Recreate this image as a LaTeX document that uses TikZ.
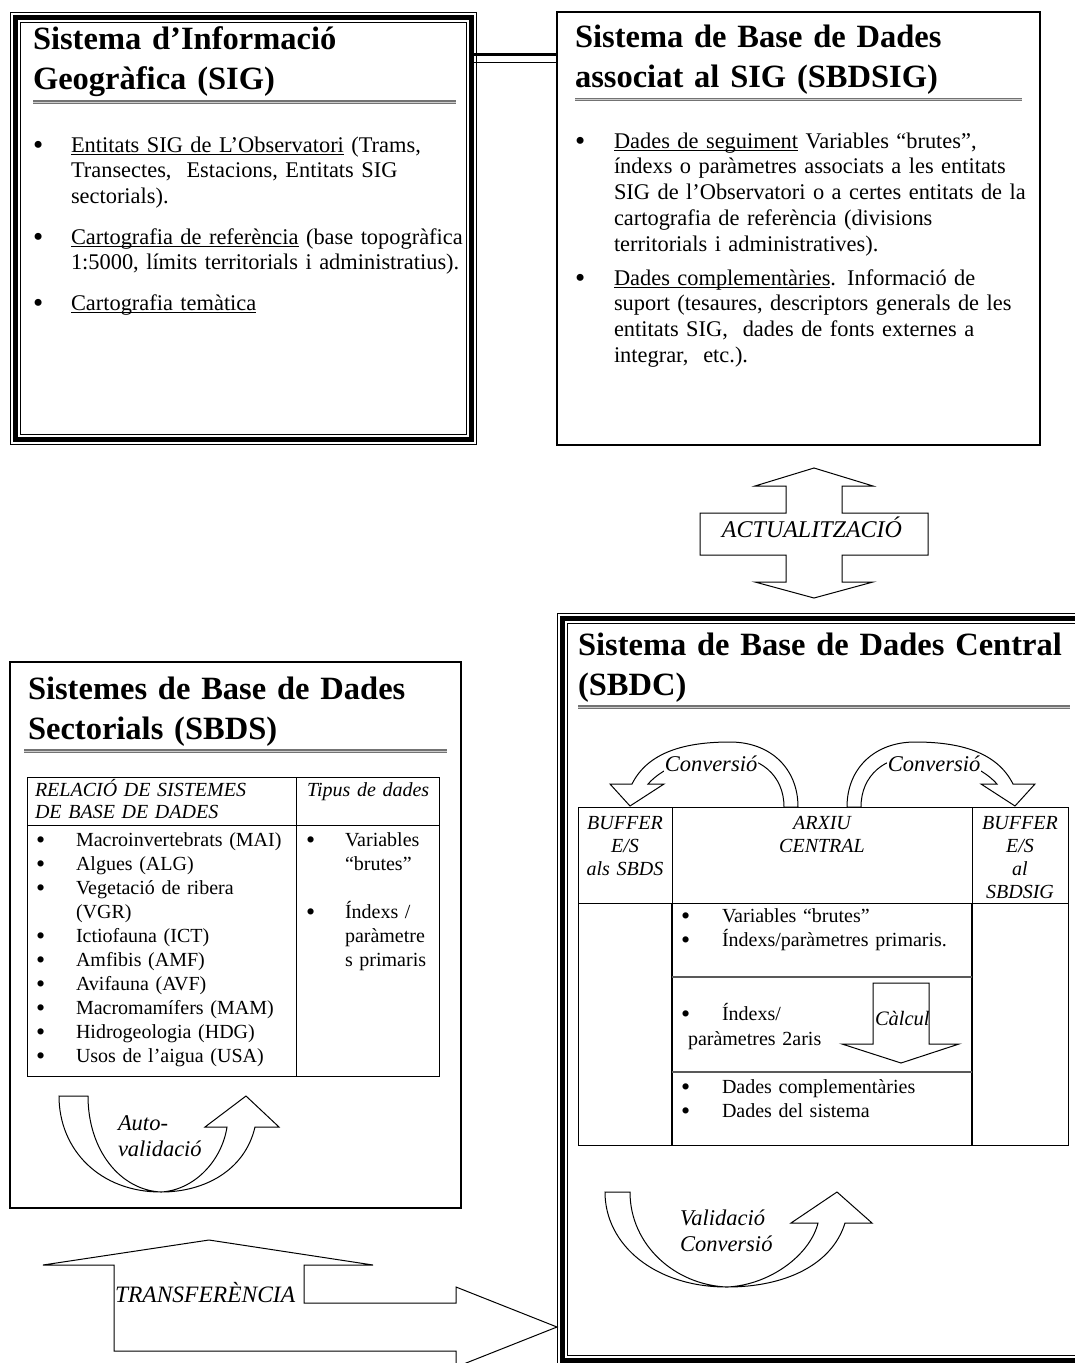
\documentclass[tikz,border=0pt]{standalone}
\usepackage{fontspec}
\setmainfont{Liberation Serif}
\usetikzlibrary{calc}

\newcommand\undl[1]{\sbox0{#1}\rlap{\rule[-3pt]{\wd0}{1.2pt}}\usebox0}
\newcommand\bul{\raisebox{-2.2pt}{\scalebox{1.3}{\textbullet}}}

\begin{document}
\begin{tikzpicture}[x=1pt,y=-1pt,every node/.append style={inner sep=0pt,outer sep=0pt},
  box/.style={draw, line width=1.2pt},
  triplebox/.style={draw, line width=5.5pt, preaction={draw, double, line width=1.2pt, double distance=9pt}},
  hrule/.style={draw=black!55, line width=1.1pt, double=black!20, double distance=1pt},
  blk/.style={draw, line width=1pt, fill=white, line join=miter},
  ttl/.style={font=\fontsize{32.5}{40.5}\selectfont\bfseries, text width=520pt, align=left, anchor=base west},
  txt/.style={font=\fontsize{22.4}{25.8}\selectfont, text width=440pt, align=left, anchor=base west},
  dot/.style={font=\fontsize{22.4}{25.8}\selectfont, anchor=base west},
  cell/.style={font=\fontsize{20}{24}\selectfont, text width=280pt, align=left, anchor=base west},
  cdot/.style={font=\fontsize{20}{24}\selectfont, anchor=base west},
  hcell/.style={font=\fontsize{20}{23}\selectfont\itshape, text width=90pt, align=center, anchor=base},
  lbl/.style={font=\fontsize{22.5}{26}\selectfont\itshape, anchor=base west}]
    \useasboundingbox[fill=white] (0,0) rectangle (1075,1363);

    \node[triplebox, minimum width=455.6pt, minimum height=421.6pt] (sig) at (243.5,228.5) {};
    \node[box, minimum width=483pt, minimum height=433pt] (sbdsig) at (798.5,228.5) {};
    \node[box, minimum width=451pt, minimum height=546pt] (sbds) at (235.5,935) {};
    \node[triplebox, minimum width=529.3pt, minimum height=741.6pt] (sbdc) at (827.35,989.5) {};

    \draw[line width=3.3pt] ([yshift=-37pt]sig.north east) -- ([yshift=-37pt]sig.north east -| sbdsig.west);
    \draw[line width=1pt] ([yshift=-44.5pt]sig.north east) -- ([yshift=-44.5pt]sig.north east -| sbdsig.west);

    \node[ttl] (sigT) at (33,49) {Sistema d’Informació\\Geogràfica (SIG)};
    \draw[hrule] (33,102) -- (456,102);
    \foreach \y [count=\i] in {152,244,310} \node[dot] (gdot\i) at (33,\y) {\bul};
    \node[txt] (sigL1) at (71,152) {\undl{Entitats SIG de L’Observatori} (Trams,\\Transectes,\ \ Estacions, Entitats SIG\\sectorials).};
    \node[txt] (sigL2) at (71,244) {\undl{Cartografia de referència} (base topogràfica\\1:5000, límits territorials i administratius).};
    \node[txt] (sigL3) at (71,310) {\undl{Cartografia temàtica}};

    \node[ttl] (sbdsigT) at (575,47) {Sistema de Base de Dades\\associat al SIG (SBDSIG)};
    \draw[hrule] (575,99.5) -- (1022,99.5);
    \foreach \y [count=\i] in {148,285} \node[dot] (bdot\i) at (575,\y) {\bul};
    \node[txt] (sbdsigL1) at (614,148) {\undl{Dades de seguiment} Variables “brutes”,\\índexs o paràmetres associats a les entitats\\SIG de l’Observatori o a certes entitats de la\\cartografia de referència (divisions\\territorials i administratives).};
    \node[txt] (sbdsigL2) at (614,285) {\undl{Dades complementàries}. Informació de\\suport (tesaures, descriptors generals de les\\entitats SIG,\ \ dades de fonts externes a\\integrar,\ \ etc.).};

    \draw[blk] (814,468) -- (873,486) -- (842,486) -- (842,513) -- (928,513) -- (928,555) -- (842,555) -- (842,582) -- (873,582) -- (814,598) -- (755,582) -- (786,582) -- (786,555) -- (700,555) -- (700,513) -- (786,513) -- (786,486) -- (755,486) -- cycle;
    \node[lbl, anchor=base, font=\fontsize{24}{26}\selectfont\itshape] (upd) at (812,537) {ACTUALITZACIÓ};

    \node[ttl] (sbdcT) at (578,655) {Sistema de Base de Dades Central\\(SBDC)};
    \draw[hrule] (578,707) -- (1070,707);

    \draw[blk] (784,807) -- (798,807) .. controls (798,768) and (770,742) .. (730,742) .. controls (685,742) and (648,752) .. (632,784) -- (610,784) -- (630,806) -- (664,784) -- (648,784) .. controls (665,765) and (695,756) .. (728,756) .. controls (760,756) and (784,775) .. (784,807) -- cycle;
    \draw[blk] (861,807) -- (847,807) .. controls (847,768) and (875,742) .. (915,742) .. controls (960,742) and (997,752) .. (1013,784) -- (1035,784) -- (1015,806) -- (981,784) -- (997,784) .. controls (980,765) and (950,756) .. (917,756) .. controls (885,756) and (861,775) .. (861,807) -- cycle;
    \node[lbl, anchor=base, fill=white, inner sep=0.5pt] (convL) at (711,771) {Conversió};
    \node[lbl, anchor=base, fill=white, inner sep=0.5pt] (convR) at (934,771) {Conversió};

    \draw[line width=1pt] (578,807) rectangle (1068,1145);
    \draw[line width=1pt] (578,903) -- (1068,903);
    \foreach \x in {672,972} {
        \draw[line width=1pt] (\x,807) -- (\x,903);
        \draw[line width=2.6pt] (\x,903) -- (\x,1145);
    }
    \draw[line width=1.3pt, black!65] (672,977) -- (972,977) (672,1072) -- (972,1072);
    \node[hcell] (bufL) at (625,829) {BUFFER\\E/S\\als SBDS};
    \node[hcell, text width=200pt] (arxiu) at (822,829) {ARXIU\\CENTRAL};
    \node[hcell] (bufR) at (1020,829) {BUFFER\\E/S\\al\\SBDSIG};
    \foreach \y [count=\i] in {922,946,1020,1093,1117} \node[cdot] (cdot\i) at (681,\y) {\bul};
    \node[cell] (row1) at (722,922) {Variables “brutes”\\Índexs/paràmetres primaris.};
    \node[cell] (row2a) at (722,1020) {Índexs/};
    \node[cell] (row2b) at (688,1045) {paràmetres 2aris};
    \node[cell] (row3) at (722,1093) {Dades complementàries\\Dades del sistema};
    \draw[blk] (873,983) -- (929,983) -- (929,1044) -- (959,1044) -- (901,1063) -- (842,1044) -- (873,1044) -- cycle;
    \node[lbl, font=\fontsize{20.5}{24}\selectfont\itshape] (calc) at (875,1025) {Càlcul};

    \draw[blk] (605,1192) -- (630,1192) .. controls (630,1245) and (675,1285) .. (727,1287) .. controls (770,1285) and (810,1255) .. (818,1223) -- (791,1223) -- (837,1192) -- (872,1223) -- (845,1223) .. controls (832,1265) and (785,1287) .. (727,1287) .. controls (655,1287) and (605,1245) .. (605,1192) -- cycle;
    \node[lbl, text width=120pt, align=left] (valid) at (680,1225) {Validació\\Conversió};

    \node[ttl] (sbdsT) at (28,699) {Sistemes de Base de Dades\\Sectorials (SBDS)};
    \draw[hrule] (24,751) -- (447,751);
    \draw[line width=1pt] (27,777) rectangle (439,1076);
    \draw[line width=1pt] (27,825) -- (439,825) (296,777) -- (296,1076);
    \node[cell, font=\fontsize{20}{22}\selectfont\itshape] (relacio) at (35,796) {RELACIÓ DE SISTEMES\\DE BASE DE DADES};
    \node[cell, font=\fontsize{20}{22}\selectfont\itshape] (tipus) at (307,796) {Tipus de dades};
    \foreach \y [count=\i] in {846,870,894,942,966,990,1014,1038,1062} \node[cdot] (sdot\i) at (36,\y) {\bul};
    \node[cell] (sbdsL) at (76,846) {Macroinvertebrats (MAI)\\Algues (ALG)\\Vegetació de ribera\\(VGR)\\Ictiofauna (ICT)\\Amfibis (AMF)\\Avifauna (AVF)\\Macromamífers (MAM)\\Hidrogeologia (HDG)\\Usos de l’aigua (USA)};
    \foreach \y [count=\i] in {846,918} \node[cdot] (tdot\i) at (306,\y) {\bul};
    \node[cell] (tipusL) at (345,846) {Variables\\“brutes”\\[24pt]Índexs /\\paràmetre\\s primaris};

    \draw[blk] (59,1096) -- (88,1096) .. controls (88,1150) and (120,1190) .. (161,1192) .. controls (195,1190) and (222,1160) .. (227,1127) -- (205,1127) -- (246,1096) -- (279,1127) -- (255,1127) .. controls (245,1170) and (205,1192) .. (161,1192) .. controls (100,1192) and (59,1150) .. (59,1096) -- cycle;
    \node[lbl, text width=100pt, align=left] (auto) at (118,1130) {Auto-\\validació};

    \draw[blk] (43,1265) -- (209,1240) -- (373,1265) -- (304,1265) -- (304,1303) -- (456,1303) -- (456,1287) -- (557,1327) -- (456,1367) -- (456,1351) -- (114,1351) -- (114,1265) -- cycle;
    \node[lbl, font=\fontsize{23.5}{26}\selectfont\itshape] (transf) at (115,1302) {TRANSFERÈNCIA};
\end{tikzpicture}
\end{document}
